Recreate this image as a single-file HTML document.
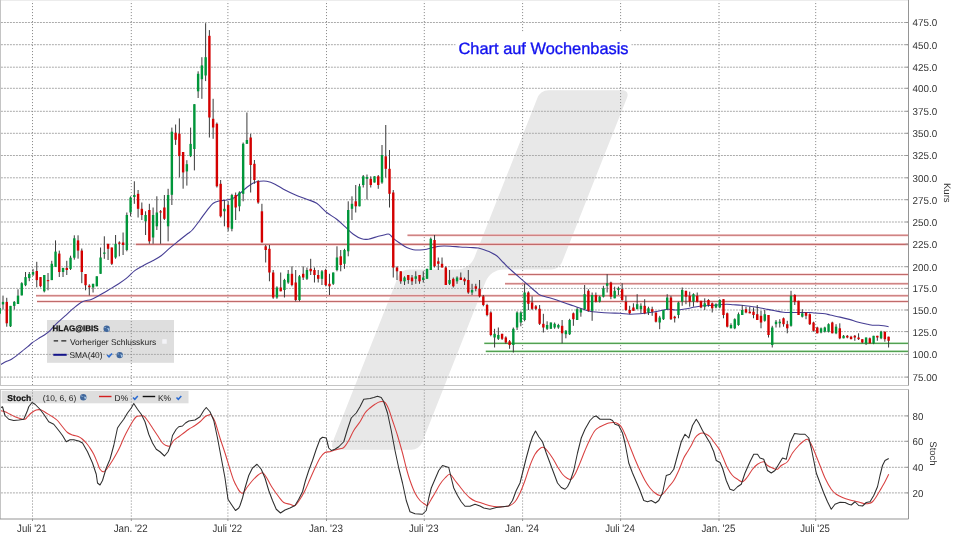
<!DOCTYPE html><html><head><meta charset="utf-8"><title>HLAG Chart auf Wochenbasis</title>
<style>html,body{margin:0;padding:0;background:#fff;width:960px;height:540px;overflow:hidden}svg{display:block}text{font-family:'Liberation Sans', Arial, sans-serif;text-rendering:geometricPrecision}</style></head><body>
<svg width="960" height="540" viewBox="0 0 960 540">
<rect width="960" height="540" fill="#fff"/>
<path d="M537.49,97.74 C539.26,93.28 543.63,90.3 548.43,90.3 L621.91,90.3 C626.71,90.3 628.74,93.28 626.97,97.74 L562.07,262.06 C560.31,266.52 555.93,269.5 551.13,269.5 L503.47,269.5 C495.67,269.5 488.56,274.34 485.7,281.59 L422.19,442.36 C420.43,446.82 416.05,449.8 411.25,449.8 L337.68,449.8 C332.88,449.8 330.85,446.82 332.62,442.36 L397.96,276.94 C399.72,272.48 404.1,269.5 408.9,269.5 L456.65,269.5 C464.45,269.5 471.56,264.66 474.42,257.41 Z" fill="#e8e8e8"/>
<rect x="47" y="320" width="127" height="42.8" fill="#dedede"/>
<rect x="1.7" y="390.8" width="186.8" height="12.5" fill="#dedede"/>
<path d="M0,377.1 H908.5 M0,354.4 H908.5 M0,331.6 H908.5 M0,310 H908.5 M0,288.4 H908.5 M0,266.7 H908.5 M0,244.2 H908.5 M0,222 H908.5 M0,199.7 H908.5 M0,177.8 H908.5 M0,155.5 H908.5 M0,133.3 H908.5 M0,111.3 H908.5 M0,88.3 H908.5 M0,67.2 H908.5 M0,44.7 H908.5 M0,22.5 H908.5 M0,492.9 H908.5 M0,467.3 H908.5 M0,441.3 H908.5 M0,415.9 H908.5" stroke="#ababab" stroke-width="1" stroke-dasharray="2,1" stroke-dashoffset="-0.9" fill="none"/>
<path d="M32.5,0 V385.5 M32.5,389.5 V519 M131.3,0 V385.5 M131.3,389.5 V519 M227.9,0 V385.5 M227.9,389.5 V519 M326.5,0 V385.5 M326.5,389.5 V519 M424.3,0 V385.5 M424.3,389.5 V519 M522.6,0 V385.5 M522.6,389.5 V519 M620.6,0 V385.5 M620.6,389.5 V519 M719,0 V385.5 M719,389.5 V519 M815.7,0 V385.5 M815.7,389.5 V519" stroke="#8e8e8e" stroke-width="1" stroke-dasharray="1.1,1.9" fill="none"/>
<rect x="455.5" y="33" width="176" height="28" fill="#fff"/>
<text x="458.5" y="53.8" font-size="16.4" fill="#1212ee" stroke="#1212ee" stroke-width="0.35">Chart auf Wochenbasis</text>
<path d="M407.5,235.3 H908.5" stroke="#f6d2d2" stroke-width="2.6"/>
<path d="M407.5,235.3 H908.5" stroke="#c06a6a" stroke-width="1.1"/>
<path d="M135.8,244.4 H908.5" stroke="#f6d2d2" stroke-width="2.6"/>
<path d="M135.8,244.4 H908.5" stroke="#c06a6a" stroke-width="1.1"/>
<path d="M508.3,274.5 H908.5" stroke="#f6d2d2" stroke-width="2.6"/>
<path d="M508.3,274.5 H908.5" stroke="#c06a6a" stroke-width="1.1"/>
<path d="M505,283.8 H908.5" stroke="#f6d2d2" stroke-width="2.6"/>
<path d="M505,283.8 H908.5" stroke="#c06a6a" stroke-width="1.1"/>
<path d="M36,295.7 H908.5" stroke="#f6d2d2" stroke-width="2.6"/>
<path d="M36,295.7 H908.5" stroke="#c06a6a" stroke-width="1.1"/>
<path d="M37,301.5 H908.5" stroke="#f6d2d2" stroke-width="2.6"/>
<path d="M37,301.5 H908.5" stroke="#c06a6a" stroke-width="1.1"/>
<path d="M484.3,343.3 H908.5" stroke="#d6f0d6" stroke-width="2.6"/>
<path d="M484.3,343.3 H908.5" stroke="#52a052" stroke-width="1.15"/>
<path d="M485.8,351.4 H908.5" stroke="#d6f0d6" stroke-width="2.6"/>
<path d="M485.8,351.4 H908.5" stroke="#52a052" stroke-width="1.15"/>
<path d="M0,365 C1.12,364.38 4.85,362.23 6.7,361.3 C8.55,360.37 9.43,360.35 11.1,359.4 C12.77,358.45 14.85,356.98 16.7,355.6 C18.55,354.22 20.35,352.58 22.2,351.1 C24.05,349.62 26.13,348.08 27.8,346.7 C29.47,345.32 30.35,344.2 32.2,342.8 C34.05,341.4 36.87,339.6 38.9,338.3 C40.93,337 42.55,336.28 44.4,335 C46.25,333.72 48.07,332.42 50,330.6 C51.93,328.78 53.53,326.5 56,324.1 C58.47,321.7 61.87,318.85 64.8,316.2 C67.73,313.55 70.67,310.62 73.6,308.2 C76.53,305.78 79.47,303.15 82.4,301.7 C85.33,300.25 88.57,300.47 91.2,299.5 C93.83,298.53 95.28,297.52 98.2,295.9 C101.12,294.28 105.48,291.7 108.7,289.8 C111.92,287.9 114.57,286.4 117.5,284.5 C120.43,282.6 123.37,280.75 126.3,278.4 C129.23,276.05 132.17,272.6 135.1,270.4 C138.03,268.2 140.97,266.8 143.9,265.2 C146.83,263.6 149.77,262.42 152.7,260.8 C155.63,259.18 158.57,257.7 161.5,255.5 C164.43,253.3 167.37,250.1 170.3,247.6 C173.23,245.1 176.17,242.85 179.1,240.5 C182.03,238.15 185.7,235.25 187.9,233.5 C190.1,231.75 190.28,232.25 192.3,230 C194.32,227.75 197.6,223.2 200,220 C202.4,216.8 204.48,213.58 206.7,210.8 C208.92,208.02 211.08,204.97 213.3,203.3 C215.52,201.63 217.77,201.35 220,200.8 C222.23,200.25 224.48,200.42 226.7,200 C228.92,199.58 231.08,199.42 233.3,198.3 C235.52,197.18 237.77,195.1 240,193.3 C242.23,191.5 244.48,189.22 246.7,187.5 C248.92,185.78 251.08,184.03 253.3,183 C255.52,181.97 257.77,181.58 260,181.3 C262.23,181.02 264.2,180.82 266.7,181.3 C269.2,181.78 271.95,182.75 275,184.2 C278.05,185.65 281.67,188.25 285,190 C288.33,191.75 291.38,193.17 295,194.7 C298.62,196.23 303.08,197.77 306.7,199.2 C310.32,200.63 313.37,201.08 316.7,203.3 C320.03,205.52 323.37,209.85 326.7,212.5 C330.03,215.15 333.65,216.83 336.7,219.2 C339.75,221.57 342.23,224.2 345,226.7 C347.77,229.2 350.52,232.18 353.3,234.2 C356.08,236.22 359.2,237.97 361.7,238.8 C364.2,239.63 365.53,239.62 368.3,239.2 C371.07,238.78 375.52,237.05 378.3,236.3 C381.08,235.55 383.18,235.05 385,234.7 C386.82,234.35 387.82,233.6 389.2,234.2 C390.58,234.8 391.5,236.78 393.3,238.3 C395.1,239.82 397.77,241.77 400,243.3 C402.23,244.83 404.48,246.43 406.7,247.5 C408.92,248.57 411.08,249.28 413.3,249.7 C415.52,250.12 417.77,250.08 420,250 C422.23,249.92 424.48,249.62 426.7,249.2 C428.92,248.78 431.08,248 433.3,247.5 C435.52,247 437.22,246.42 440,246.2 C442.78,245.98 446.67,246.07 450,246.2 C453.33,246.33 456.67,246.78 460,247 C463.33,247.22 466.95,247.33 470,247.5 C473.05,247.67 475.52,247.45 478.3,248 C481.08,248.55 484.75,250.13 486.7,250.8 C488.65,251.47 488.33,251.17 490,252 C491.67,252.83 494.48,254.05 496.7,255.8 C498.92,257.55 501.08,260.27 503.3,262.5 C505.52,264.73 507.77,267.12 510,269.2 C512.23,271.28 514.48,273.07 516.7,275 C518.92,276.93 521.08,278.85 523.3,280.8 C525.52,282.75 527.77,284.75 530,286.7 C532.23,288.65 535.03,291.12 536.7,292.5 C538.37,293.88 538.07,294.17 540,295 C541.93,295.83 545.52,296.67 548.3,297.5 C551.08,298.33 553.92,299.08 556.7,300 C559.48,300.92 562.23,302.03 565,303 C567.77,303.97 570.52,304.85 573.3,305.8 C576.08,306.75 578.92,307.78 581.7,308.7 C584.48,309.62 587.23,310.72 590,311.3 C592.77,311.88 594.97,311.92 598.3,312.2 C601.63,312.48 606.38,312.82 610,313 C613.62,313.18 616.67,313.1 620,313.3 C623.33,313.5 626.67,314.13 630,314.2 C633.33,314.27 636.67,313.98 640,313.7 C643.33,313.42 646.67,312.98 650,312.5 C653.33,312.02 656.95,311.35 660,310.8 C663.05,310.25 665.8,309.33 668.3,309.2 C670.8,309.07 673.05,309.92 675,310 C676.95,310.08 678.05,309.92 680,309.7 C681.95,309.48 684.2,309.15 686.7,308.7 C689.2,308.25 692.23,307.48 695,307 C697.77,306.52 700.25,306.08 703.3,305.8 C706.35,305.52 710.52,305.48 713.3,305.3 C716.08,305.12 717.77,304.88 720,304.7 C722.23,304.52 724.48,304.2 726.7,304.2 C728.92,304.2 730.8,304.52 733.3,304.7 C735.8,304.88 738.92,305.03 741.7,305.3 C744.48,305.57 747.23,305.93 750,306.3 C752.77,306.67 755.52,307.02 758.3,307.5 C761.08,307.98 763.92,308.65 766.7,309.2 C769.48,309.75 772.23,310.3 775,310.8 C777.77,311.3 780.8,311.92 783.3,312.2 C785.8,312.48 787.22,312.45 790,312.5 C792.78,312.55 796.67,312.5 800,312.5 C803.33,312.5 807.5,312.42 810,312.5 C812.5,312.58 812.5,312.8 815,313 C817.5,313.2 822.5,313.37 825,313.7 C827.5,314.03 827.5,314.43 830,315 C832.5,315.57 836.78,316.37 840,317.1 C843.22,317.83 846.22,318.55 849.3,319.4 C852.38,320.25 855.42,321.38 858.5,322.2 C861.58,323.02 865.48,323.8 867.8,324.3 C870.12,324.8 870.55,325.05 872.4,325.2 C874.25,325.35 877.05,325.12 878.9,325.2 C880.75,325.28 881.88,325.45 883.5,325.7 C885.12,325.95 887.75,326.53 888.6,326.7" fill="none" stroke="#463e94" stroke-width="1.1" stroke-linejoin="round"/>
<g clip-path="url(#mainclip)">
<path d="M-0.75,306 V316 M3,295.6 V309.6 M6.75,297.8 V326.7 M10.5,305.9 V327 M14.26,301 V309.6 M18.01,289.3 V304 M21.76,282.2 V295.4 M25.52,272 V286.2 M29.27,272 V281.2 M33.02,268.9 V276 M36.77,261.8 V287.3 M40.52,277 V287.3 M44.28,275 V292.4 M48.03,273 V290.3 M51.78,260.8 V280.1 M55.53,240.4 V266.9 M59.29,250.6 V277 M63.04,267.9 V277 M66.79,260.8 V275 M70.55,255.7 V270 M74.3,235.3 V259.7 M78.05,235.3 V258.7 M81.8,248.5 V283.2 M85.55,274 V290.3 M89.31,284.2 V295.4 M93.06,283.8 V292.5 M96.81,276.3 V286.3 M100.56,247.5 V273.8 M104.32,236.3 V258.8 M108.07,243.8 V260 M111.82,247.5 V265 M115.58,235 V258.8 M119.33,241.3 V256.3 M123.08,232.5 V255 M126.83,212.5 V251.3 M130.58,196.3 V216.3 M134.34,181.3 V203.8 M138.09,190 V217.5 M141.84,202.5 V220 M145.59,211.3 V235 M149.35,203.8 V243.8 M153.1,207.5 V243.8 M156.85,196.3 V230 M160.6,210 V243.8 M164.36,195 V220 M168.11,188.8 V241.3 M171.86,127.6 V205 M175.62,124.5 V144.9 M179.37,118.4 V177.5 M183.12,152 V188.7 M186.87,160.2 V185.6 M190.62,127.6 V157.1 M194.38,104.2 V170.4 M198.13,71.3 V98 M201.88,57.2 V98.8 M205.63,23.2 V81.1 M209.39,30.1 V137.5 M213.14,98.8 V138.8 M216.89,122.5 V187.5 M220.65,180 V217.5 M224.4,200 V226.3 M228.15,201.3 V231.3 M231.9,193.8 V231.3 M235.66,192.5 V220 M239.41,191.3 V211.3 M243.16,142.5 V201.3 M246.91,112.5 V143.8 M250.66,133.8 V192.5 M254.42,160 V183.8 M258.17,180 V203.8 M261.92,203.8 V242.5 M265.68,245 V262.5 M269.43,245 V281.3 M273.18,270 V298.8 M276.93,286.3 V298.8 M280.69,272.5 V291.3 M284.44,278.8 V297.5 M288.19,270 V283.8 M291.94,266.3 V286.3 M295.69,270 V301.3 M299.45,275 V301.3 M303.2,266.3 V280 M306.95,267.5 V280 M310.7,258.8 V275 M314.46,267.5 V282.5 M318.21,270 V282.5 M321.96,270 V285 M325.71,268.8 V286.3 M329.47,273.8 V295 M333.22,272.5 V285 M336.97,246.3 V271.3 M340.73,250 V271.3 M344.48,248.8 V268.8 M348.23,201.3 V256.3 M351.98,196.3 V220 M355.74,185 V212.5 M359.49,183.8 V206.3 M363.24,175 V187.5 M366.99,174.5 V199.5 M370.75,176.3 V187.5 M374.5,176.3 V182.5 M378.25,175 V188.8 M382,145 V183.8 M385.75,125 V177.5 M389.51,150 V207.5 M393.26,190 V277.5 M397.01,266.3 V280 M400.76,271.3 V283.8 M404.52,276.3 V285 M408.27,275 V283.8 M412.02,275 V285 M415.77,271.3 V283.8 M419.53,275 V283.8 M423.28,271.3 V282.5 M427.03,268.8 V278.8 M430.78,237.5 V270 M434.54,235 V267.5 M438.29,257.5 V270 M442.04,257.5 V267.5 M445.8,266.3 V285 M449.55,270 V285 M453.3,277.5 V287.5 M457.05,276.3 V283.8 M460.81,272.5 V280 M464.56,277.5 V285 M468.31,270 V293.8 M472.06,283.8 V295 M475.81,283.8 V291.3 M479.57,280 V297.5 M483.32,295 V306.3 M487.07,303.8 V316.3 M490.82,311.3 V336.3 M494.58,328.8 V347.5 M498.33,327.5 V340 M502.08,333.8 V340 M505.83,336.3 V343.8 M509.59,340 V348.8 M513.34,327.5 V352.5 M517.09,311.3 V330 M520.85,311.3 V326.3 M524.6,283.8 V321.3 M528.35,291.3 V310 M532.1,296.3 V310 M535.86,305 V310 M539.61,305 V325 M543.36,313.8 V332.5 M547.11,321.3 V330 M550.87,322.5 V328.8 M554.62,322.5 V328.8 M558.37,323.8 V328.8 M562.12,320 V343.3 M565.88,330 V338.3 M569.63,318.8 V335 M573.38,312.5 V325.8 M577.13,307.5 V320 M580.88,308.3 V316.7 M584.64,285 V310 M588.39,289.2 V311.7 M592.14,292.5 V320.8 M595.89,292.5 V302.5 M599.65,295.8 V302.5 M603.4,285.8 V297.5 M607.15,274.2 V292.5 M610.9,281.7 V299.2 M614.66,286.7 V298.3 M618.41,286.7 V295 M622.16,283.3 V300.8 M625.91,295.8 V310.8 M629.67,305.8 V314.2 M633.42,303.3 V310.8 M637.17,294.2 V309.2 M640.92,303.3 V313.3 M644.68,299.2 V314.2 M648.43,306.7 V315 M652.18,306.7 V315.8 M655.93,312.5 V322.5 M659.69,315.8 V329.2 M663.44,310 V320 M667.19,294.2 V310 M670.94,295.8 V320 M674.7,315.8 V322.5 M678.45,301.7 V318.3 M682.2,287.5 V305.8 M685.96,290.8 V304.2 M689.71,291.7 V306.7 M693.46,293.3 V306.7 M697.21,292.5 V302.5 M700.97,300.8 V308.3 M704.72,298.3 V310 M708.47,299.2 V306.7 M712.22,302.5 V312.5 M715.98,303.3 V308.3 M719.73,299.2 V308.3 M723.48,299.2 V318.3 M727.23,312.5 V327.5 M730.99,323.3 V328.3 M734.74,318.3 V329.2 M738.49,312.5 V325.8 M742.24,305 V315 M746,306.7 V313.3 M749.75,306.7 V313.3 M753.5,307.5 V318.3 M757.25,305 V320 M761,310.8 V328.3 M764.76,310 V321.7 M768.51,315 V337.5 M772.26,325.8 V347.5 M776.01,320 V327.5 M779.77,319.2 V327.5 M783.52,317.5 V326.7 M787.27,320.8 V333.3 M791.02,290.8 V326.7 M794.78,294.2 V305 M798.53,300.8 V315 M802.28,309.2 V317.5 M806.03,312.5 V319.2 M809.79,313.3 V325 M813.54,321.7 V331.7 M817.29,326.7 V333.3 M821.04,327.5 V333.3 M824.8,326.7 V332.5 M828.55,323.3 V332.5 M832.3,321.7 V333.3 M836.05,324.2 V334.2 M839.81,323.3 V339.2 M843.56,335 V338.3 M847.31,335 V338.3 M851.06,335.8 V339.2 M854.82,335 V340.8 M858.57,333.3 V340 M862.32,339.2 V343.3 M866.07,337.5 V345 M869.83,337.5 V343.3 M873.58,335.8 V344.2 M877.33,335.8 V340.8 M881.09,330.8 V339.2 M884.84,331.7 V341.7 M888.59,336.7 V347.5" stroke="#3a3a3a" stroke-width="1" fill="none"/>
<g fill="#00963a"><rect x="-1.95" y="308" width="2.4" height="5.7"/><rect x="1.8" y="301.9" width="2.4" height="2.5"/><rect x="9.3" y="305.9" width="2.4" height="20.4"/><rect x="13.06" y="301.9" width="2.4" height="4"/><rect x="16.81" y="295.6" width="2.4" height="8.4"/><rect x="20.56" y="283.2" width="2.4" height="12.2"/><rect x="24.32" y="277.1" width="2.4" height="8.1"/><rect x="28.07" y="274" width="2.4" height="4.1"/><rect x="31.82" y="272" width="2.4" height="2.6"/><rect x="43.08" y="275" width="2.4" height="16.3"/><rect x="50.58" y="263.8" width="2.4" height="16.3"/><rect x="54.33" y="251.6" width="2.4" height="15.3"/><rect x="61.84" y="267.9" width="2.4" height="4.1"/><rect x="69.34" y="257.7" width="2.4" height="11.2"/><rect x="73.1" y="238.3" width="2.4" height="19.4"/><rect x="91.86" y="283.8" width="2.4" height="3.7"/><rect x="95.61" y="276.3" width="2.4" height="10"/><rect x="99.36" y="257.5" width="2.4" height="16.3"/><rect x="103.12" y="252.5" width="2.4" height="1.3"/><rect x="114.38" y="243.8" width="2.4" height="13.7"/><rect x="125.63" y="215" width="2.4" height="35"/><rect x="129.38" y="197.5" width="2.4" height="15"/><rect x="133.14" y="195" width="2.4" height="2"/><rect x="144.4" y="215" width="2.4" height="6.3"/><rect x="151.9" y="215" width="2.4" height="22.5"/><rect x="155.65" y="212.5" width="2.4" height="13.8"/><rect x="166.91" y="195" width="2.4" height="31.3"/><rect x="170.66" y="131.7" width="2.4" height="63.1"/><rect x="185.67" y="164.2" width="2.4" height="7.2"/><rect x="189.43" y="143.9" width="2.4" height="12.2"/><rect x="193.18" y="104.2" width="2.4" height="44.8"/><rect x="196.93" y="73.8" width="2.4" height="17.5"/><rect x="200.68" y="65.4" width="2.4" height="13.8"/><rect x="204.44" y="57.2" width="2.4" height="18.3"/><rect x="223.2" y="208.8" width="2.4" height="2.5"/><rect x="230.7" y="195" width="2.4" height="33.8"/><rect x="238.21" y="192.5" width="2.4" height="13.8"/><rect x="241.96" y="143.8" width="2.4" height="50"/><rect x="245.71" y="140" width="2.4" height="3.8"/><rect x="275.73" y="287.5" width="2.4" height="10"/><rect x="283.24" y="280" width="2.4" height="10"/><rect x="286.99" y="273.8" width="2.4" height="8.7"/><rect x="298.25" y="276.3" width="2.4" height="23.7"/><rect x="305.75" y="270" width="2.4" height="8.8"/><rect x="320.76" y="271.3" width="2.4" height="7.5"/><rect x="332.02" y="272.5" width="2.4" height="11.3"/><rect x="335.77" y="257.5" width="2.4" height="12.5"/><rect x="343.28" y="250" width="2.4" height="13.8"/><rect x="347.03" y="210" width="2.4" height="41.3"/><rect x="350.78" y="203.8" width="2.4" height="5"/><rect x="358.29" y="186.3" width="2.4" height="20"/><rect x="362.04" y="176.3" width="2.4" height="8.7"/><rect x="365.79" y="177" width="2.4" height="1.8"/><rect x="373.3" y="176.3" width="2.4" height="6.2"/><rect x="380.8" y="155" width="2.4" height="27.5"/><rect x="403.32" y="277.5" width="2.4" height="3.8"/><rect x="414.57" y="276.3" width="2.4" height="2.5"/><rect x="422.08" y="277.5" width="2.4" height="2.5"/><rect x="425.83" y="268.8" width="2.4" height="10"/><rect x="429.58" y="238.8" width="2.4" height="31.2"/><rect x="448.35" y="280" width="2.4" height="3.8"/><rect x="455.85" y="277.5" width="2.4" height="3.8"/><rect x="470.86" y="290" width="2.4" height="2.5"/><rect x="493.38" y="333.8" width="2.4" height="3.7"/><rect x="497.13" y="335" width="2.4" height="3.8"/><rect x="512.14" y="328.8" width="2.4" height="16.2"/><rect x="515.89" y="312.5" width="2.4" height="15"/><rect x="519.64" y="312.5" width="2.4" height="10"/><rect x="523.4" y="292.5" width="2.4" height="27.5"/><rect x="545.91" y="325" width="2.4" height="3.8"/><rect x="549.66" y="322.5" width="2.4" height="6.3"/><rect x="553.42" y="323.8" width="2.4" height="3.7"/><rect x="557.17" y="325" width="2.4" height="2.5"/><rect x="564.67" y="330.8" width="2.4" height="3.4"/><rect x="568.43" y="320" width="2.4" height="14.2"/><rect x="575.93" y="309.2" width="2.4" height="10.8"/><rect x="579.68" y="309.2" width="2.4" height="3.3"/><rect x="583.44" y="294.2" width="2.4" height="15"/><rect x="590.94" y="295" width="2.4" height="15.8"/><rect x="598.45" y="296.7" width="2.4" height="5"/><rect x="602.2" y="288.3" width="2.4" height="8.4"/><rect x="605.95" y="283.3" width="2.4" height="2.5"/><rect x="613.46" y="290.8" width="2.4" height="7.5"/><rect x="617.21" y="288.3" width="2.4" height="1.7"/><rect x="635.97" y="304.2" width="2.4" height="5"/><rect x="639.72" y="305.8" width="2.4" height="3.4"/><rect x="647.23" y="308.3" width="2.4" height="4.2"/><rect x="658.49" y="317.5" width="2.4" height="5"/><rect x="662.24" y="310" width="2.4" height="9.2"/><rect x="665.99" y="297.5" width="2.4" height="11.7"/><rect x="677.25" y="302.5" width="2.4" height="12.5"/><rect x="681" y="290" width="2.4" height="11.7"/><rect x="692.26" y="294.2" width="2.4" height="7.5"/><rect x="703.52" y="303.3" width="2.4" height="3.4"/><rect x="714.77" y="304.2" width="2.4" height="3.3"/><rect x="718.53" y="300" width="2.4" height="7.5"/><rect x="729.78" y="325" width="2.4" height="3.3"/><rect x="733.54" y="319.2" width="2.4" height="9.1"/><rect x="737.29" y="314.2" width="2.4" height="10.8"/><rect x="741.04" y="310" width="2.4" height="5"/><rect x="763.56" y="314.2" width="2.4" height="6.6"/><rect x="771.06" y="327.5" width="2.4" height="17.5"/><rect x="774.81" y="321.7" width="2.4" height="2.5"/><rect x="778.57" y="321.7" width="2.4" height="1.6"/><rect x="789.82" y="295.8" width="2.4" height="30"/><rect x="801.08" y="313.3" width="2.4" height="3.4"/><rect x="819.84" y="328.3" width="2.4" height="4.2"/><rect x="823.6" y="327.5" width="2.4" height="4.2"/><rect x="827.35" y="324.2" width="2.4" height="7.5"/><rect x="834.85" y="326.7" width="2.4" height="6.6"/><rect x="842.36" y="335.8" width="2.4" height="2.5"/><rect x="864.87" y="337.5" width="2.4" height="5.8"/><rect x="872.38" y="335.8" width="2.4" height="7.5"/><rect x="879.88" y="331.7" width="2.4" height="6.6"/></g>
<g fill="#d40000"><rect x="5.55" y="301.9" width="2.4" height="21.4"/><rect x="35.57" y="271" width="2.4" height="9.1"/><rect x="39.32" y="277.1" width="2.4" height="9.1"/><rect x="46.83" y="280.1" width="2.4" height="1.1"/><rect x="58.09" y="253.6" width="2.4" height="18.4"/><rect x="65.59" y="267.9" width="2.4" height="2.1"/><rect x="76.85" y="240.4" width="2.4" height="10.2"/><rect x="80.6" y="250.6" width="2.4" height="21.4"/><rect x="84.35" y="274" width="2.4" height="11.2"/><rect x="88.11" y="285.6" width="2.4" height="1.7"/><rect x="106.87" y="243.8" width="2.4" height="5"/><rect x="110.62" y="247.5" width="2.4" height="16.3"/><rect x="118.13" y="242.5" width="2.4" height="1.3"/><rect x="121.88" y="242.5" width="2.4" height="2.5"/><rect x="136.89" y="193.8" width="2.4" height="15"/><rect x="140.64" y="208.8" width="2.4" height="6.2"/><rect x="148.15" y="210" width="2.4" height="31.3"/><rect x="159.41" y="211.3" width="2.4" height="1.2"/><rect x="163.16" y="207.5" width="2.4" height="11.3"/><rect x="174.42" y="132.7" width="2.4" height="7.1"/><rect x="178.17" y="133.7" width="2.4" height="22.4"/><rect x="181.92" y="152" width="2.4" height="20.4"/><rect x="208.19" y="35.8" width="2.4" height="81.7"/><rect x="211.94" y="118.8" width="2.4" height="8.7"/><rect x="215.69" y="123.8" width="2.4" height="62.5"/><rect x="219.45" y="183.8" width="2.4" height="32.5"/><rect x="226.95" y="205" width="2.4" height="22.5"/><rect x="234.46" y="195" width="2.4" height="12.5"/><rect x="249.47" y="137.5" width="2.4" height="27.5"/><rect x="253.22" y="163.8" width="2.4" height="16.2"/><rect x="256.97" y="181.3" width="2.4" height="21.2"/><rect x="260.72" y="211.3" width="2.4" height="31.2"/><rect x="264.48" y="246.3" width="2.4" height="3.7"/><rect x="268.23" y="248.8" width="2.4" height="23.7"/><rect x="271.98" y="272.5" width="2.4" height="25"/><rect x="279.49" y="287.5" width="2.4" height="3.8"/><rect x="290.74" y="273.8" width="2.4" height="11.2"/><rect x="294.5" y="282.5" width="2.4" height="17.5"/><rect x="302" y="273.8" width="2.4" height="3.7"/><rect x="309.5" y="268.8" width="2.4" height="2.5"/><rect x="313.26" y="270" width="2.4" height="5"/><rect x="317.01" y="275" width="2.4" height="3.8"/><rect x="324.51" y="270" width="2.4" height="15"/><rect x="328.27" y="283.8" width="2.4" height="2.5"/><rect x="339.53" y="256.3" width="2.4" height="8.7"/><rect x="354.54" y="201.3" width="2.4" height="5"/><rect x="369.55" y="178.8" width="2.4" height="6.2"/><rect x="377.05" y="176.3" width="2.4" height="8.7"/><rect x="384.56" y="156.3" width="2.4" height="12.5"/><rect x="388.31" y="168.8" width="2.4" height="25"/><rect x="392.06" y="192.5" width="2.4" height="75"/><rect x="395.81" y="267.5" width="2.4" height="3.8"/><rect x="399.56" y="271.3" width="2.4" height="10"/><rect x="407.07" y="275" width="2.4" height="5"/><rect x="410.82" y="277.5" width="2.4" height="3.8"/><rect x="418.33" y="275" width="2.4" height="6.3"/><rect x="433.34" y="240" width="2.4" height="26.3"/><rect x="437.09" y="261.3" width="2.4" height="2.5"/><rect x="440.84" y="263.8" width="2.4" height="3.7"/><rect x="444.6" y="267.5" width="2.4" height="17.5"/><rect x="452.1" y="278.8" width="2.4" height="7.5"/><rect x="459.61" y="277.5" width="2.4" height="2.5"/><rect x="463.36" y="278.8" width="2.4" height="2.5"/><rect x="467.11" y="280" width="2.4" height="12.5"/><rect x="474.62" y="286.3" width="2.4" height="2.5"/><rect x="478.37" y="288.8" width="2.4" height="7.5"/><rect x="482.12" y="296.3" width="2.4" height="8.7"/><rect x="485.87" y="305" width="2.4" height="10"/><rect x="489.62" y="312.5" width="2.4" height="22.5"/><rect x="500.88" y="333.8" width="2.4" height="5"/><rect x="504.63" y="337.5" width="2.4" height="5"/><rect x="508.39" y="341.3" width="2.4" height="3.7"/><rect x="527.15" y="292.5" width="2.4" height="11.3"/><rect x="530.9" y="302.5" width="2.4" height="6.3"/><rect x="534.65" y="306.3" width="2.4" height="2.5"/><rect x="538.41" y="308.8" width="2.4" height="15"/><rect x="542.16" y="323.8" width="2.4" height="3.7"/><rect x="560.92" y="325.8" width="2.4" height="7.5"/><rect x="572.18" y="313.3" width="2.4" height="5.9"/><rect x="587.19" y="290.8" width="2.4" height="20"/><rect x="594.69" y="295" width="2.4" height="6.7"/><rect x="609.7" y="282.5" width="2.4" height="14.2"/><rect x="620.96" y="289.2" width="2.4" height="10.8"/><rect x="624.71" y="301.7" width="2.4" height="8.3"/><rect x="628.47" y="310" width="2.4" height="3.3"/><rect x="632.22" y="307.5" width="2.4" height="3.3"/><rect x="643.48" y="305.8" width="2.4" height="7.5"/><rect x="650.98" y="309.2" width="2.4" height="2.5"/><rect x="654.73" y="312.5" width="2.4" height="9.2"/><rect x="669.74" y="297.5" width="2.4" height="21.7"/><rect x="673.5" y="316.7" width="2.4" height="1.6"/><rect x="684.75" y="290.8" width="2.4" height="5.9"/><rect x="688.51" y="295.8" width="2.4" height="5.9"/><rect x="696.01" y="295.8" width="2.4" height="5.9"/><rect x="699.76" y="300.8" width="2.4" height="6.7"/><rect x="707.27" y="300" width="2.4" height="5"/><rect x="711.02" y="303.3" width="2.4" height="5"/><rect x="722.28" y="299.2" width="2.4" height="15.8"/><rect x="726.03" y="313.3" width="2.4" height="13.4"/><rect x="744.79" y="309.2" width="2.4" height="3.3"/><rect x="748.55" y="311.7" width="2.4" height="1.6"/><rect x="752.3" y="311.7" width="2.4" height="3.3"/><rect x="756.05" y="314.2" width="2.4" height="5.8"/><rect x="759.8" y="315.8" width="2.4" height="6.7"/><rect x="767.31" y="315" width="2.4" height="20"/><rect x="782.32" y="318.3" width="2.4" height="5.9"/><rect x="786.07" y="324.2" width="2.4" height="4.1"/><rect x="793.58" y="295" width="2.4" height="6.7"/><rect x="797.33" y="300.8" width="2.4" height="14.2"/><rect x="804.83" y="312.5" width="2.4" height="3.3"/><rect x="808.59" y="314.2" width="2.4" height="10"/><rect x="812.34" y="322.5" width="2.4" height="8.3"/><rect x="816.09" y="327.5" width="2.4" height="5.8"/><rect x="831.1" y="322.5" width="2.4" height="10.8"/><rect x="838.61" y="328.3" width="2.4" height="10"/><rect x="846.11" y="335.8" width="2.4" height="1.7"/><rect x="849.86" y="336.7" width="2.4" height="2.5"/><rect x="853.62" y="335.8" width="2.4" height="1.7"/><rect x="857.37" y="337.5" width="2.4" height="1.7"/><rect x="861.12" y="339.2" width="2.4" height="3.3"/><rect x="868.63" y="338.3" width="2.4" height="5"/><rect x="876.13" y="335.8" width="2.4" height="1.7"/><rect x="883.64" y="331.7" width="2.4" height="7.5"/><rect x="887.39" y="336.7" width="2.4" height="4.1"/></g>
</g>
<defs><clipPath id="mainclip"><rect x="0.5" y="0" width="908" height="385"/></clipPath></defs>
<text x="52.5" y="331.3" font-size="8" font-weight="bold" fill="#111" stroke="#111" stroke-width="0.25">HLAG@IBIS</text>
<g><circle cx="106.7" cy="328.7" r="3.2" fill="#40679c"/><path d="M106.9,327.9 q1.6,1.2 1.2,3.2 q1.6,-1 1.6,-2.6 z" fill="#a9c8e6"/><path d="M104.5,327.5 q1,-0.4 1.6,0.6" stroke="#a9c8e6" stroke-width="0.8" fill="none"/></g>
<path d="M53.7,340.8 h4.4 M61.3,340.8 h5" stroke="#222" stroke-width="1.2"/>
<text x="70" y="344.7" font-size="8.4" fill="#222">Vorheriger Schlusskurs</text>
<rect x="162" y="339" width="5" height="5" fill="#f4f4f8" stroke="#ddd" stroke-width="0.5"/>
<path d="M53.3,354.8 h13.4" stroke="#14148a" stroke-width="2"/>
<text x="69.5" y="357.5" font-size="8.4" fill="#222">SMA(40)</text>
<path d="M107.2,355 l1.8,1.8 l3,-3.3" stroke="#2a6ad0" stroke-width="1.5" fill="none"/>
<g><circle cx="119.7" cy="355.1" r="3.2" fill="#40679c"/><path d="M119.9,354.3 q1.6,1.2 1.2,3.2 q1.6,-1 1.6,-2.6 z" fill="#a9c8e6"/><path d="M117.5,353.9 q1,-0.4 1.6,0.6" stroke="#a9c8e6" stroke-width="0.8" fill="none"/></g>
<g clip-path="url(#stclip)">
<path d="M0,410.5 C0.83,410.71 3.33,411.12 5,411.75 C6.67,412.38 8.33,413.42 10,414.25 C11.67,415.08 13.33,416.04 15,416.75 C16.67,417.46 18.33,418.08 20,418.5 C21.67,418.92 23.75,419.54 25,419.25 C26.25,418.96 26.46,417.79 27.5,416.75 C28.54,415.71 29.79,414.12 31.25,413 C32.71,411.88 34.58,410.5 36.25,410 C37.92,409.5 39.58,409.5 41.25,410 C42.92,410.5 44.38,411.88 46.25,413 C48.12,414.12 50.62,415.5 52.5,416.75 C54.38,418 55.83,418.83 57.5,420.5 C59.17,422.17 60.83,424.75 62.5,426.75 C64.17,428.75 65.83,431.12 67.5,432.5 C69.17,433.88 70.62,434.29 72.5,435 C74.38,435.71 77.08,436.04 78.75,436.75 C80.42,437.46 81.25,438.21 82.5,439.25 C83.75,440.29 85,441.54 86.25,443 C87.5,444.46 88.75,446.12 90,448 C91.25,449.88 92.5,451.75 93.75,454.25 C95,456.75 96.46,460.5 97.5,463 C98.54,465.5 98.96,467.79 100,469.25 C101.04,470.71 102.5,471.96 103.75,471.75 C105,471.54 106.04,469.88 107.5,468 C108.96,466.12 110.83,463.21 112.5,460.5 C114.17,457.79 116.25,454.04 117.5,451.75 C118.75,449.46 118.96,449.04 120,446.75 C121.04,444.46 122.5,440.71 123.75,438 C125,435.29 126.04,433.21 127.5,430.5 C128.96,427.79 131.04,424.04 132.5,421.75 C133.96,419.46 135,417.71 136.25,416.75 C137.5,415.79 138.75,416.12 140,416 C141.25,415.88 142.5,415.25 143.75,416 C145,416.75 146.04,418.5 147.5,420.5 C148.96,422.5 150.83,425.5 152.5,428 C154.17,430.5 155.83,433 157.5,435.5 C159.17,438 161.04,441.33 162.5,443 C163.96,444.67 165,445 166.25,445.5 C167.5,446 168.75,446.83 170,446 C171.25,445.17 172.29,442.04 173.75,440.5 C175.21,438.96 177.08,438 178.75,436.75 C180.42,435.5 182.08,434.25 183.75,433 C185.42,431.75 186.88,430.5 188.75,429.25 C190.62,428 193.12,426.75 195,425.5 C196.88,424.25 198.33,423.21 200,421.75 C201.67,420.29 203.54,417.88 205,416.75 C206.46,415.62 207.71,415.29 208.75,415 C209.79,414.71 210.21,413.88 211.25,415 C212.29,416.12 213.54,417.92 215,421.75 C216.46,425.58 218.33,432.79 220,438 C221.67,443.21 223.33,447.79 225,453 C226.67,458.21 228.54,464.67 230,469.25 C231.46,473.83 232.5,477.38 233.75,480.5 C235,483.62 236.46,486.12 237.5,488 C238.54,489.88 239.08,490.92 240,491.75 C240.92,492.58 241.75,493.83 243,493 C244.25,492.17 245.92,488.83 247.5,486.75 C249.08,484.67 250.83,482.38 252.5,480.5 C254.17,478.62 256.04,476.75 257.5,475.5 C258.96,474.25 260.21,473.33 261.25,473 C262.29,472.67 262.71,472.46 263.75,473.5 C264.79,474.54 266.04,476.83 267.5,479.25 C268.96,481.67 270.62,485.08 272.5,488 C274.38,490.92 276.88,494.33 278.75,496.75 C280.62,499.17 281.88,501.25 283.75,502.5 C285.62,503.75 288.12,503.75 290,504.25 C291.88,504.75 293.33,506.33 295,505.5 C296.67,504.67 298.33,501.75 300,499.25 C301.67,496.75 303.33,493.83 305,490.5 C306.67,487.17 308.33,483 310,479.25 C311.67,475.5 313.33,471.54 315,468 C316.67,464.46 318.33,460.58 320,458 C321.67,455.42 323.33,453.54 325,452.5 C326.67,451.46 328.33,452.17 330,451.75 C331.67,451.33 333.33,450.5 335,450 C336.67,449.5 338.54,449.17 340,448.75 C341.46,448.33 342.29,448.88 343.75,447.5 C345.21,446.12 347.08,443.33 348.75,440.5 C350.42,437.67 351.88,433.62 353.75,430.5 C355.62,427.38 358.12,424.67 360,421.75 C361.88,418.83 363.33,415.29 365,413 C366.67,410.71 368.33,409.46 370,408 C371.67,406.54 373.33,405.29 375,404.25 C376.67,403.21 378.33,402.04 380,401.75 C381.67,401.46 383.54,401.25 385,402.5 C386.46,403.75 387.5,406.25 388.75,409.25 C390,412.25 391.04,416.12 392.5,420.5 C393.96,424.88 395.83,430.08 397.5,435.5 C399.17,440.92 401.04,447.58 402.5,453 C403.96,458.42 405,463.42 406.25,468 C407.5,472.58 408.54,476.33 410,480.5 C411.46,484.67 413.33,489.67 415,493 C416.67,496.33 418.33,498.62 420,500.5 C421.67,502.38 423.75,503.42 425,504.25 C426.25,505.08 426.46,506.33 427.5,505.5 C428.54,504.67 430,501.33 431.25,499.25 C432.5,497.17 433.54,495.5 435,493 C436.46,490.5 438.33,486.75 440,484.25 C441.67,481.75 443.33,479.67 445,478 C446.67,476.33 448.33,473.83 450,474.25 C451.67,474.67 453.33,478.42 455,480.5 C456.67,482.58 458.33,484.67 460,486.75 C461.67,488.83 463.33,491.12 465,493 C466.67,494.88 468.33,496.67 470,498 C471.67,499.33 473.33,500.25 475,501 C476.67,501.75 478.33,501.96 480,502.5 C481.67,503.04 483.12,503.67 485,504.25 C486.88,504.83 489.17,505.58 491.25,506 C493.33,506.42 495.62,506.62 497.5,506.75 C499.38,506.88 500.42,506.96 502.5,506.75 C504.58,506.54 507.92,506.33 510,505.5 C512.08,504.67 513.33,503.83 515,501.75 C516.67,499.67 518.33,496.54 520,493 C521.67,489.46 523.33,485.08 525,480.5 C526.67,475.92 528.33,469.88 530,465.5 C531.67,461.12 533.33,457.08 535,454.25 C536.67,451.42 538.54,449.62 540,448.5 C541.46,447.38 542.5,447.08 543.75,447.5 C545,447.92 546.04,449.25 547.5,451 C548.96,452.75 550.83,455.38 552.5,458 C554.17,460.62 555.83,464.04 557.5,466.75 C559.17,469.46 560.83,472.29 562.5,474.25 C564.17,476.21 566.04,477.67 567.5,478.5 C568.96,479.33 570,479.96 571.25,479.25 C572.5,478.54 573.54,476.96 575,474.25 C576.46,471.54 578.33,466.96 580,463 C581.67,459.04 583.33,454.46 585,450.5 C586.67,446.54 588.33,442.58 590,439.25 C591.67,435.92 593.33,432.58 595,430.5 C596.67,428.42 598.54,427.67 600,426.75 C601.46,425.83 602.29,425.62 603.75,425 C605.21,424.38 607.08,423.42 608.75,423 C610.42,422.58 612.29,422.42 613.75,422.5 C615.21,422.58 616.25,422.79 617.5,423.5 C618.75,424.21 620,424.96 621.25,426.75 C622.5,428.54 623.54,430.92 625,434.25 C626.46,437.58 628.33,442.58 630,446.75 C631.67,450.92 633.33,455.29 635,459.25 C636.67,463.21 638.33,466.96 640,470.5 C641.67,474.04 643.33,477.58 645,480.5 C646.67,483.42 648.33,485.92 650,488 C651.67,490.08 653.33,491.75 655,493 C656.67,494.25 658.54,495.5 660,495.5 C661.46,495.5 662.29,494.46 663.75,493 C665.21,491.54 667.08,488.83 668.75,486.75 C670.42,484.67 672.08,483.21 673.75,480.5 C675.42,477.79 677.08,474.25 678.75,470.5 C680.42,466.75 682.29,461.12 683.75,458 C685.21,454.88 686.25,453.83 687.5,451.75 C688.75,449.67 690,447.79 691.25,445.5 C692.5,443.21 693.75,439.88 695,438 C696.25,436.12 697.5,435.08 698.75,434.25 C700,433.42 701.25,433 702.5,433 C703.75,433 705,433.62 706.25,434.25 C707.5,434.88 708.75,435.5 710,436.75 C711.25,438 712.5,440.08 713.75,441.75 C715,443.42 716.46,445.29 717.5,446.75 C718.54,448.21 718.96,448.42 720,450.5 C721.04,452.58 722.5,456.33 723.75,459.25 C725,462.17 726.04,465.29 727.5,468 C728.96,470.71 730.83,473.62 732.5,475.5 C734.17,477.38 735.83,478.21 737.5,479.25 C739.17,480.29 740.83,482.17 742.5,481.75 C744.17,481.33 745.83,478.83 747.5,476.75 C749.17,474.67 750.83,471.33 752.5,469.25 C754.17,467.17 755.62,465.5 757.5,464.25 C759.38,463 762.08,461.54 763.75,461.75 C765.42,461.96 766.04,464.46 767.5,465.5 C768.96,466.54 770.83,467.38 772.5,468 C774.17,468.62 776.04,469.67 777.5,469.25 C778.96,468.83 779.58,466.75 781.25,465.5 C782.92,464.25 785.62,463.83 787.5,461.75 C789.38,459.67 790.62,455.71 792.5,453 C794.38,450.29 796.88,447.5 798.75,445.5 C800.62,443.5 802.29,442.04 803.75,441 C805.21,439.96 806.25,438.71 807.5,439.25 C808.75,439.79 810,441.96 811.25,444.25 C812.5,446.54 813.54,449.46 815,453 C816.46,456.54 818.33,461.33 820,465.5 C821.67,469.67 823.12,474.04 825,478 C826.88,481.96 829.38,486.54 831.25,489.25 C833.12,491.96 834.38,492.88 836.25,494.25 C838.12,495.62 840.21,496.54 842.5,497.5 C844.79,498.46 847.5,499.29 850,500 C852.5,500.71 855.21,501.17 857.5,501.75 C859.79,502.33 861.88,503.21 863.75,503.5 C865.62,503.79 867.29,503.79 868.75,503.5 C870.21,503.21 871.25,502.88 872.5,501.75 C873.75,500.62 875,498.62 876.25,496.75 C877.5,494.88 878.54,493 880,490.5 C881.46,488 883.54,484.46 885,481.75 C886.46,479.04 888.12,475.5 888.75,474.25" fill="none" stroke="#d84040" stroke-width="1.05" stroke-linejoin="round"/>
<polyline points="0,408 2.5,406.75 5,415.5 8.75,419.25 13.75,420.5 18.75,420 23.75,419.25 27.5,410.5 28.75,406.75 32,402.5 35,404.25 40,409.25 43.75,414.25 48.75,421.75 53.75,424.25 58.75,430.5 62.5,435.5 66.25,441.75 70,439.75 73.75,439.75 78.75,441 82.5,443 87.5,451.75 92.5,463 96.25,474.25 97.5,483 100,485 102.5,480.5 106.25,468 110,459.25 113.75,445.5 117.5,428 120,424.25 123.75,419.25 127.5,413 131.25,408 133.75,403.5 137.5,409.25 141.25,414.25 145,421.75 148.75,434.25 152.5,443 156.25,449.25 160,451.75 164.5,456 168,451.75 170,446.75 172.5,435.5 176.25,429.25 178.75,426.75 182.5,426 185.5,423 188.75,421 195,420 200,416.75 203.75,410.5 206.25,407.5 210,411.75 213.75,420.5 217.5,438 221.25,458 225,478 228,499.25 231.25,504.25 235.5,510.5 238.75,508 240,505.5 242.5,498 245,488 248.75,475.5 252.5,468 257,464.25 261.25,469.25 265,478 268.75,490.5 272.5,500.5 276.25,509.25 280.5,513 285,510 290,508 295,505.5 298.75,499.25 302.5,491.75 305.5,480.5 308.75,470.5 312.5,460.5 316.25,449.25 320,439.25 322.5,437.25 326.25,438 328.75,448 331.25,450.5 335,449.25 338.75,446.75 343.75,441.75 347.5,429.25 351.25,418 356.25,413 360,406.75 363.75,399.25 370,398.5 373.75,397.5 377.5,396.25 381.25,397.5 383.75,401.75 387.5,413 391.25,430.5 395,450.5 398.75,468 402.5,483 406.25,500.5 410,511.75 415,513.75 422.5,514.25 426.25,510.5 428.75,498 431.25,488 435,479.25 438.75,470.5 442.5,465.5 448.75,467.5 451.25,478 453.75,488 457.5,495.5 461.25,501.75 465,506.25 470,506.25 475,504.25 480,506 483.75,508 490,509.25 496.25,507.5 502.5,506.75 508.75,506 512.5,500.5 516.25,490.5 520,483 522.5,473 526.25,458 530,444.25 532.5,436.75 535.5,431 538.75,436.75 542.5,441.75 546.25,453 550,463 553.75,473 557.5,483 561.25,487.5 565,489.25 567.5,486.75 570,481.75 573.75,470.5 577.5,453 581.25,438 585,429.25 590,420.5 593.75,416.75 596.25,416 600,419.25 610,419.25 612.5,420.5 615,424.25 618.75,425.5 622.5,433 625,443 628.75,463 632.5,473 636.25,481.75 640,490.5 643.75,500.5 647.5,501.75 651.25,500.5 655.5,503 658.75,500.5 662.5,493 666.25,475.5 670,474.25 673.75,469.25 677.5,455.5 681.25,441.75 685,434.25 688.75,438 692.5,425.5 696.25,419.25 698.75,423 702.5,430.5 706.25,436.75 710,443 713.75,451.75 716.25,460.5 720,462.5 722.5,468 726.25,480.5 730,489.25 733.75,490.5 737.5,486.75 741.25,484.25 745,473 750,461.75 753.75,454.25 757.5,454.25 760,458 763.75,459.25 767.5,470.5 771.25,473 775,470.5 778.75,464.25 782.5,458 786.25,459.25 790,443 794.5,433.5 800,434.25 805,434.25 808.75,438 811.25,448 813.75,460.5 816.25,473 820,483 823.75,493 827.5,501.75 831.25,509.25 835,504.25 840,502.25 845,502.5 848.75,504.25 851.25,505 855,501.75 858.75,505.5 862.5,506 866.25,502.5 870,501.75 873.75,495.5 877.5,486.75 880,475.5 882.5,465.5 885,460.5 888.75,458.5" fill="none" stroke="#2e2e2e" stroke-width="1.05" stroke-linejoin="round"/>
</g>
<defs><clipPath id="stclip"><rect x="0.5" y="389.5" width="908" height="129.5"/></clipPath></defs>
<text x="7.3" y="400.6" font-size="8.6" font-weight="bold" fill="#111" stroke="#111" stroke-width="0.2">Stoch</text>
<text x="42.7" y="400.6" font-size="8.4" fill="#222">(10, 6, 6)</text>
<g><circle cx="83.3" cy="397.2" r="3.2" fill="#40679c"/><path d="M83.5,396.4 q1.6,1.2 1.2,3.2 q1.6,-1 1.6,-2.6 z" fill="#a9c8e6"/><path d="M81.1,396 q1,-0.4 1.6,0.6" stroke="#a9c8e6" stroke-width="0.8" fill="none"/></g>
<path d="M99,396.5 h12.5" stroke="#d42020" stroke-width="1.4"/>
<text x="114.6" y="400.6" font-size="8.4" fill="#222">D%</text>
<path d="M133,397.5 l1.8,1.8 l3,-3.3" stroke="#2a6ad0" stroke-width="1.5" fill="none"/>
<path d="M142.7,396.5 h12.5" stroke="#111" stroke-width="1.4"/>
<text x="158" y="400.6" font-size="8.4" fill="#222">K%</text>
<path d="M176.5,397.5 l1.8,1.8 l3,-3.3" stroke="#2a6ad0" stroke-width="1.5" fill="none"/>
<path d="M0,0.5 H908.5" stroke="#ececec" stroke-width="1" fill="none"/>
<path d="M0.5,0 V385.5 M0,385.5 H908.5" stroke="#c4c4c4" stroke-width="1" fill="none"/>
<path d="M0.5,389.5 V519 M0,389.5 H908.5" stroke="#c4c4c4" stroke-width="1" fill="none"/>
<path d="M908.5,0 V385.5 M908.5,389.5 V519 M0,519 H908.5" stroke="#959595" stroke-width="1" fill="none"/>
<path d="M905.5,377.1 h3 M905.5,354.4 h3 M905.5,331.6 h3 M905.5,310 h3 M905.5,288.4 h3 M905.5,266.7 h3 M905.5,244.2 h3 M905.5,222 h3 M905.5,199.7 h3 M905.5,177.8 h3 M905.5,155.5 h3 M905.5,133.3 h3 M905.5,111.3 h3 M905.5,88.3 h3 M905.5,67.2 h3 M905.5,44.7 h3 M905.5,22.5 h3 M905.5,492.9 h3 M905.5,467.3 h3 M905.5,441.3 h3 M905.5,415.9 h3 M32.5,519 v2 M131.3,519 v2 M227.9,519 v2 M326.5,519 v2 M424.3,519 v2 M522.6,519 v2 M620.6,519 v2 M719,519 v2 M815.7,519 v2" stroke="#959595" stroke-width="1"/>
<rect x="0" y="308" width="0.9" height="5.7" fill="#00963a"/>
<g font-size="9.5" fill="#333">
<text x="912.6" y="381" font-size="10.0" textLength="24.6" lengthAdjust="spacingAndGlyphs">75.00</text>
<text x="912.6" y="358" font-size="10.0" textLength="24.6" lengthAdjust="spacingAndGlyphs">100.0</text>
<text x="912.6" y="336" font-size="10.0" textLength="24.6" lengthAdjust="spacingAndGlyphs">125.0</text>
<text x="912.6" y="314" font-size="10.0" textLength="24.6" lengthAdjust="spacingAndGlyphs">150.0</text>
<text x="912.6" y="292" font-size="10.0" textLength="24.6" lengthAdjust="spacingAndGlyphs">175.0</text>
<text x="912.6" y="271" font-size="10.0" textLength="24.6" lengthAdjust="spacingAndGlyphs">200.0</text>
<text x="912.6" y="248" font-size="10.0" textLength="24.6" lengthAdjust="spacingAndGlyphs">225.0</text>
<text x="912.6" y="226" font-size="10.0" textLength="24.6" lengthAdjust="spacingAndGlyphs">250.0</text>
<text x="912.6" y="204" font-size="10.0" textLength="24.6" lengthAdjust="spacingAndGlyphs">275.0</text>
<text x="912.6" y="182" font-size="10.0" textLength="24.6" lengthAdjust="spacingAndGlyphs">300.0</text>
<text x="912.6" y="159" font-size="10.0" textLength="24.6" lengthAdjust="spacingAndGlyphs">325.0</text>
<text x="912.6" y="137" font-size="10.0" textLength="24.6" lengthAdjust="spacingAndGlyphs">350.0</text>
<text x="912.6" y="115" font-size="10.0" textLength="24.6" lengthAdjust="spacingAndGlyphs">375.0</text>
<text x="912.6" y="92" font-size="10.0" textLength="24.6" lengthAdjust="spacingAndGlyphs">400.0</text>
<text x="912.6" y="71" font-size="10.0" textLength="24.6" lengthAdjust="spacingAndGlyphs">425.0</text>
<text x="912.6" y="49" font-size="10.0" textLength="24.6" lengthAdjust="spacingAndGlyphs">450.0</text>
<text x="912.6" y="26" font-size="10.0" textLength="24.6" lengthAdjust="spacingAndGlyphs">475.0</text>
<text x="912.6" y="497" font-size="10.0" textLength="10.8" lengthAdjust="spacingAndGlyphs">20</text>
<text x="912.6" y="471" font-size="10.0" textLength="10.8" lengthAdjust="spacingAndGlyphs">40</text>
<text x="912.6" y="445" font-size="10.0" textLength="10.8" lengthAdjust="spacingAndGlyphs">60</text>
<text x="912.6" y="420" font-size="10.0" textLength="10.8" lengthAdjust="spacingAndGlyphs">80</text>
<text x="17.1" y="531.9" font-size="10.8" textLength="29.6" lengthAdjust="spacingAndGlyphs">Juli '21</text>
<text x="113.7" y="531.9" font-size="10.8" textLength="34" lengthAdjust="spacingAndGlyphs">Jan. '22</text>
<text x="212.5" y="531.9" font-size="10.8" textLength="29.6" lengthAdjust="spacingAndGlyphs">Juli '22</text>
<text x="308.9" y="531.9" font-size="10.8" textLength="34" lengthAdjust="spacingAndGlyphs">Jan. '23</text>
<text x="408.9" y="531.9" font-size="10.8" textLength="29.6" lengthAdjust="spacingAndGlyphs">Juli '23</text>
<text x="505" y="531.9" font-size="10.8" textLength="34" lengthAdjust="spacingAndGlyphs">Jan. '24</text>
<text x="605.2" y="531.9" font-size="10.8" textLength="29.6" lengthAdjust="spacingAndGlyphs">Juli '24</text>
<text x="701.4" y="531.9" font-size="10.8" textLength="34" lengthAdjust="spacingAndGlyphs">Jan. '25</text>
<text x="800.3" y="531.9" font-size="10.8" textLength="29.6" lengthAdjust="spacingAndGlyphs">Juli '25</text>
<text transform="translate(944,192.8) rotate(90)" text-anchor="middle">Kurs</text>
<text transform="translate(929.5,453.5) rotate(90)" text-anchor="middle">Stoch</text>
</g>
</svg></body></html>
